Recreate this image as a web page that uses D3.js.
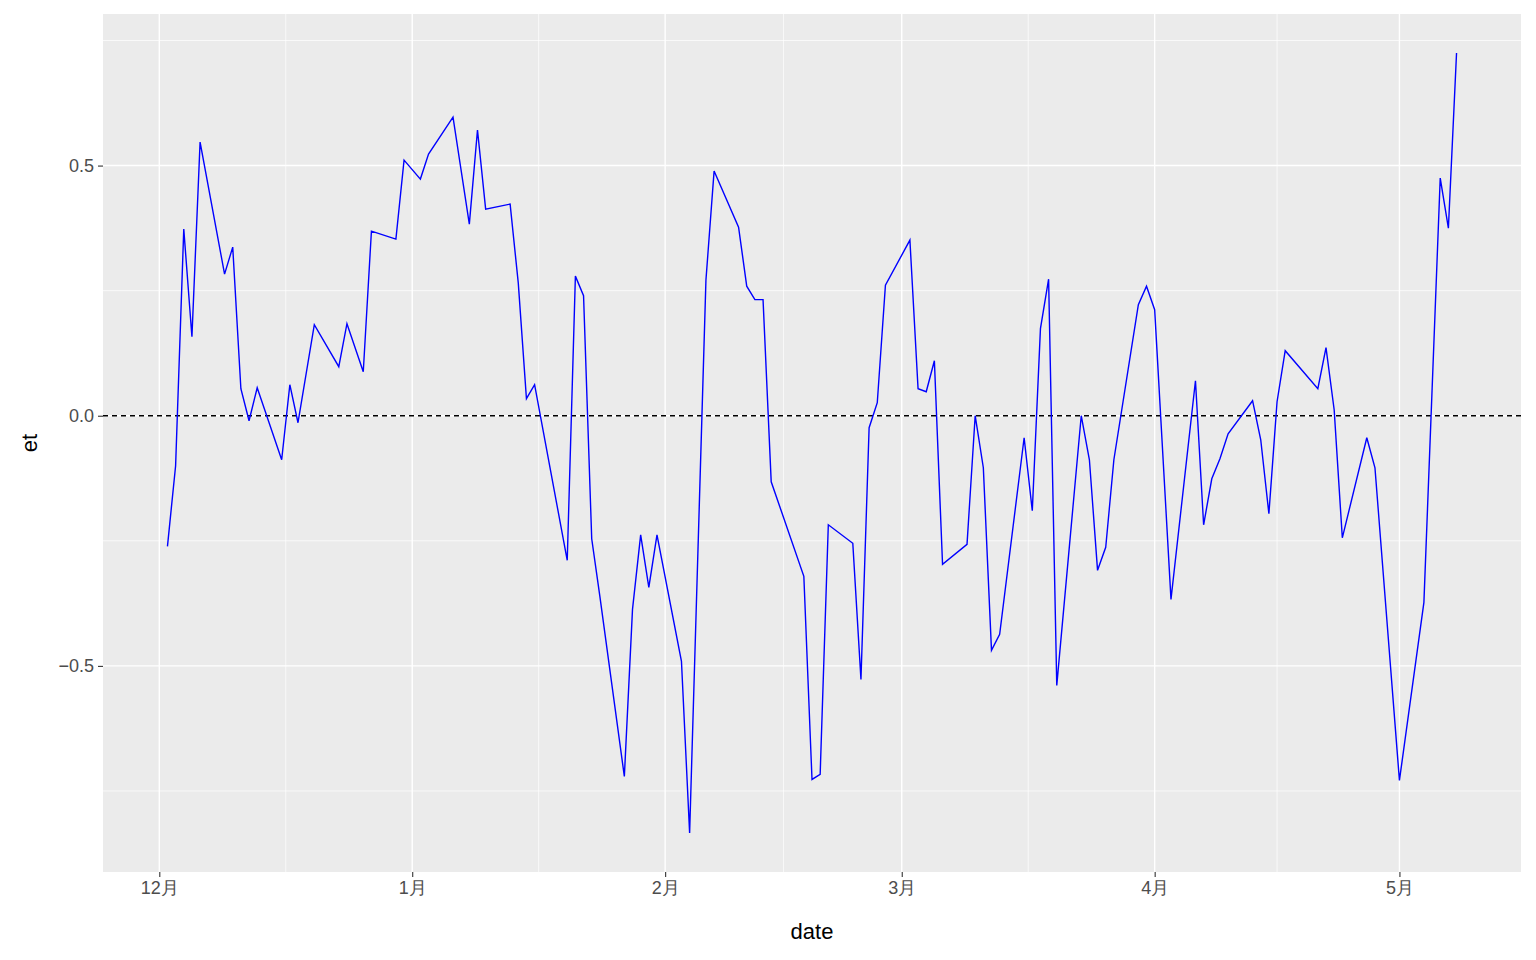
<!DOCTYPE html>
<html>
<head>
<meta charset="utf-8">
<script src="https://cdn.jsdelivr.net/npm/d3@7"></script>
<style>
  body { margin: 0; background: #fff; }
  text { font-family: "Liberation Sans", Arial, sans-serif; }
</style>
</head>
<body>
<svg id="chart" width="1536" height="960"></svg>
<script>
// trading days
const dates = ["2019-12-02","2019-12-03","2019-12-04","2019-12-05","2019-12-06","2019-12-09","2019-12-10","2019-12-11","2019-12-12","2019-12-13",
"2019-12-16","2019-12-17","2019-12-18","2019-12-20","2019-12-23","2019-12-24","2019-12-26","2019-12-27","2019-12-30","2019-12-31",
"2020-01-02","2020-01-03","2020-01-06","2020-01-08","2020-01-09","2020-01-10","2020-01-13","2020-01-14","2020-01-15","2020-01-16",
"2020-01-20","2020-01-21","2020-01-22","2020-01-23","2020-01-24","2020-01-27","2020-01-28","2020-01-29","2020-01-30","2020-01-31",
"2020-02-03","2020-02-04","2020-02-06","2020-02-07","2020-02-10","2020-02-11","2020-02-12","2020-02-13","2020-02-14","2020-02-18",
"2020-02-19","2020-02-20","2020-02-21","2020-02-24","2020-02-25","2020-02-26","2020-02-27","2020-02-28","2020-03-02","2020-03-03",
"2020-03-04","2020-03-05","2020-03-06","2020-03-09","2020-03-10","2020-03-11","2020-03-12","2020-03-13","2020-03-16","2020-03-17",
"2020-03-18","2020-03-19","2020-03-20","2020-03-23","2020-03-24","2020-03-25","2020-03-26","2020-03-27","2020-03-30","2020-03-31",
"2020-04-01","2020-04-03","2020-04-06","2020-04-07","2020-04-08","2020-04-09","2020-04-10","2020-04-13","2020-04-14","2020-04-15",
"2020-04-16","2020-04-17","2020-04-21","2020-04-22","2020-04-23","2020-04-24","2020-04-27","2020-04-28","2020-05-01","2020-05-04",
"2020-05-06","2020-05-07","2020-05-08"];
const et = [-0.261,-0.100,0.373,0.158,0.547,0.283,0.337,0.054,-0.010,0.056,
-0.088,0.062,-0.014,0.182,0.098,0.184,0.088,0.369,0.353,0.511,
0.473,0.523,0.597,0.383,0.571,0.413,0.423,0.265,0.034,0.062,
-0.289,0.279,0.240,-0.246,-0.361,-0.721,-0.387,-0.238,-0.343,-0.238,
-0.491,-0.834,0.271,0.489,0.377,0.259,0.232,0.232,-0.132,-0.321,
-0.727,-0.717,-0.218,-0.255,-0.527,-0.024,0.026,0.261,0.351,0.054,
0.048,0.110,-0.297,-0.257,0.000,-0.104,-0.469,-0.437,-0.044,-0.190,
0.174,0.273,-0.539,0.000,-0.088,-0.309,-0.263,-0.088,0.222,0.259,
0.212,-0.367,0.070,-0.218,-0.126,-0.086,-0.036,0.030,-0.048,-0.196,
0.028,0.130,0.054,0.136,0.012,-0.244,-0.044,-0.104,-0.729,-0.373,
0.475,0.375,0.725];
const yBreaks = [-0.5, 0, 0.5];
const yMinor = [-0.75, -0.25, 0.25, 0.75];

const parse = d3.timeParse("%Y-%m-%d");
const data = dates.map((d, i) => ({date: parse(d), et: et[i]}));

const pLeft = 103, pRight = 1521, pTop = 14, pBottom = 872;
const svg = d3.select("#chart");

// ggplot-style 5% expansion
const xr = d3.extent(data, d => d.date), yr = d3.extent(data, d => d.et);
const xpad = (xr[1] - xr[0]) * 0.05, ypad = (yr[1] - yr[0]) * 0.05;
const x = d3.scaleTime().domain([new Date(+xr[0] - xpad), new Date(+xr[1] + xpad)]).range([pLeft, pRight]);
const y = d3.scaleLinear().domain([yr[0] - ypad, yr[1] + ypad]).range([pBottom, pTop]);

const xBreaks = d3.timeMonth.range(d3.timeMonth.ceil(x.domain()[0]), x.domain()[1]);
const xMinor = [];
xBreaks.forEach(b => {
  const nb = d3.timeMonth.offset(b, 1);
  const m = new Date((+b + +nb) / 2);
  if (m < x.domain()[1]) xMinor.push(m);
});

svg.append("rect").attr("x", pLeft).attr("y", pTop).attr("width", pRight - pLeft).attr("height", pBottom - pTop).attr("fill", "#EBEBEB");

const grid = svg.append("g").attr("stroke", "#fff").attr("fill", "none");
grid.selectAll(".ym").data(yMinor).enter().append("line")
  .attr("x1", pLeft).attr("x2", pRight).attr("y1", d => y(d)).attr("y2", d => y(d)).attr("stroke-width", 0.7);
grid.selectAll(".xm").data(xMinor).enter().append("line")
  .attr("y1", pTop).attr("y2", pBottom).attr("x1", d => x(d)).attr("x2", d => x(d)).attr("stroke-width", 0.7);
grid.selectAll(".yM").data(yBreaks).enter().append("line")
  .attr("x1", pLeft).attr("x2", pRight).attr("y1", d => y(d)).attr("y2", d => y(d)).attr("stroke-width", 1.4);
grid.selectAll(".xM").data(xBreaks).enter().append("line")
  .attr("y1", pTop).attr("y2", pBottom).attr("x1", d => x(d)).attr("x2", d => x(d)).attr("stroke-width", 1.4);

svg.append("line").attr("x1", pLeft).attr("x2", pRight).attr("y1", y(0)).attr("y2", y(0))
  .attr("stroke", "#000").attr("stroke-width", 1.4).attr("stroke-dasharray", "5,4");

svg.append("path").datum(data)
  .attr("fill", "none").attr("stroke", "#0000FF").attr("stroke-width", 1.4)
  .attr("d", d3.line().x(d => x(d.date)).y(d => y(d.et)));

// axes
const xAxis = svg.append("g").attr("transform", `translate(0,${pBottom})`)
  .call(d3.axisBottom(x).tickValues(xBreaks).tickSize(5).tickPadding(4).tickFormat(d => (d.getMonth() + 1) + "月"));
const yAxis = svg.append("g").attr("transform", `translate(${pLeft},0)`)
  .call(d3.axisLeft(y).tickValues(yBreaks).tickSize(5).tickPadding(4).tickFormat(d3.format(".1f")));
[xAxis, yAxis].forEach(a => {
  a.select(".domain").remove();
  a.selectAll(".tick line").attr("stroke", "#333").attr("stroke-width", 1.1);
  a.selectAll(".tick text").attr("fill", "#4D4D4D").attr("font-size", 18)
    .attr("font-family", "'Liberation Sans', 'Noto Sans CJK SC', sans-serif");
});

svg.append("text").attr("x", (pLeft + pRight) / 2).attr("y", 939).attr("text-anchor", "middle")
  .attr("font-size", 22).attr("fill", "#000").text("date");
svg.append("text").attr("transform", `translate(37,${(pTop + pBottom) / 2}) rotate(-90)`).attr("text-anchor", "middle")
  .attr("font-size", 22).attr("fill", "#000").text("et");
</script>
</body>
</html>
